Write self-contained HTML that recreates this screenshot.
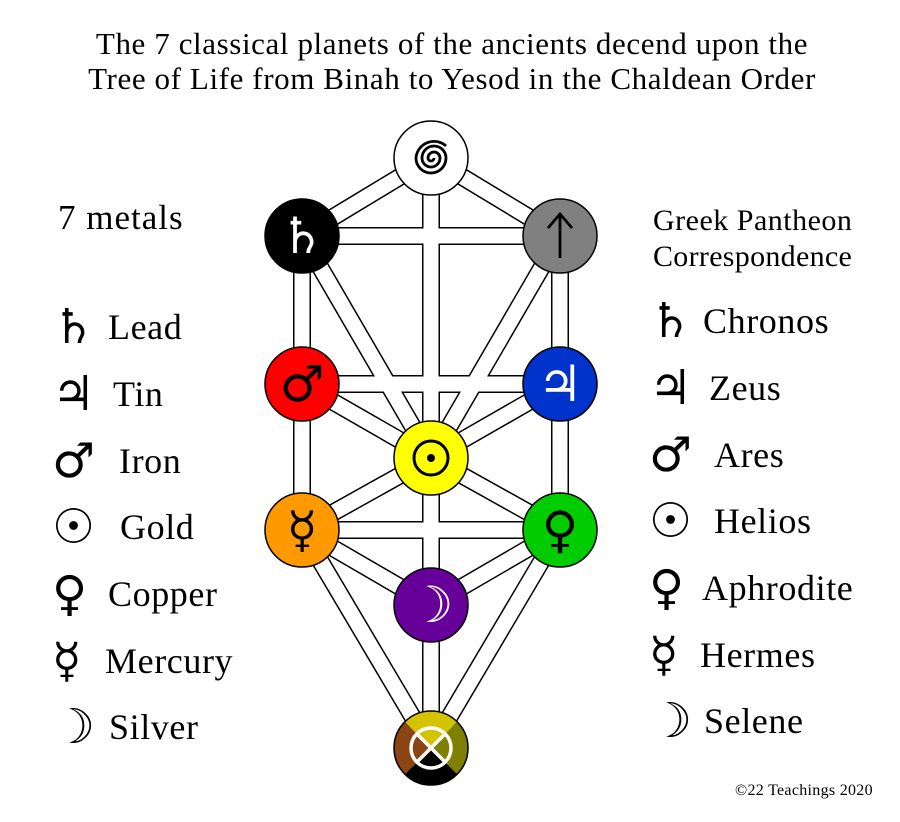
<!DOCTYPE html>
<html><head><meta charset="utf-8"><style>
html,body{margin:0;padding:0;background:#fff;}
svg{display:block;}
.t{font-family:"Liberation Serif","DejaVu Serif",serif;fill:#000;}
.s{font-family:"DejaVu Sans",sans-serif;}
</style></head><body>
<svg width="900" height="822" viewBox="0 0 900 822" xmlns="http://www.w3.org/2000/svg">
<rect width="900" height="822" fill="#fff"/>
<text class="t" x="452" y="54" font-size="31" letter-spacing="0.6" text-anchor="middle">The 7 classical planets of the ancients decend upon the</text>
<text class="t" x="452" y="89" font-size="31" letter-spacing="0.6" text-anchor="middle">Tree of Life from Binah to Yesod in the Chaldean Order</text>

<g stroke-linecap="butt">
<g stroke="#000" stroke-width="18">
<line x1="431" y1="158" x2="560" y2="236"/><line x1="431" y1="158" x2="302" y2="236"/><line x1="431" y1="158" x2="431" y2="458"/>
<line x1="302" y1="236" x2="560" y2="236"/><line x1="560" y1="236" x2="560" y2="384"/><line x1="560" y1="236" x2="431" y2="458"/>
<line x1="302" y1="236" x2="302" y2="384"/><line x1="302" y1="236" x2="431" y2="458"/>
<line x1="302" y1="384" x2="560" y2="384"/><line x1="560" y1="384" x2="431" y2="458"/><line x1="302" y1="384" x2="431" y2="458"/>
<line x1="560" y1="384" x2="560" y2="530"/><line x1="302" y1="384" x2="302" y2="530"/>
<line x1="431" y1="458" x2="560" y2="530"/><line x1="431" y1="458" x2="302" y2="530"/><line x1="431" y1="458" x2="431" y2="605"/>
<line x1="302" y1="530" x2="560" y2="530"/><line x1="560" y1="530" x2="431" y2="605"/><line x1="302" y1="530" x2="431" y2="605"/>
<line x1="560" y1="530" x2="431" y2="748"/><line x1="302" y1="530" x2="431" y2="748"/><line x1="431" y1="605" x2="431" y2="748"/>
</g>
<g stroke="#fff" stroke-width="15">
<line x1="431" y1="158" x2="560" y2="236"/><line x1="431" y1="158" x2="302" y2="236"/><line x1="431" y1="158" x2="431" y2="458"/>
<line x1="302" y1="236" x2="560" y2="236"/><line x1="560" y1="236" x2="560" y2="384"/><line x1="560" y1="236" x2="431" y2="458"/>
<line x1="302" y1="236" x2="302" y2="384"/><line x1="302" y1="236" x2="431" y2="458"/>
<line x1="302" y1="384" x2="560" y2="384"/><line x1="560" y1="384" x2="431" y2="458"/><line x1="302" y1="384" x2="431" y2="458"/>
<line x1="560" y1="384" x2="560" y2="530"/><line x1="302" y1="384" x2="302" y2="530"/>
<line x1="431" y1="458" x2="560" y2="530"/><line x1="431" y1="458" x2="302" y2="530"/><line x1="431" y1="458" x2="431" y2="605"/>
<line x1="302" y1="530" x2="560" y2="530"/><line x1="560" y1="530" x2="431" y2="605"/><line x1="302" y1="530" x2="431" y2="605"/>
<line x1="560" y1="530" x2="431" y2="748"/><line x1="302" y1="530" x2="431" y2="748"/><line x1="431" y1="605" x2="431" y2="748"/>
</g>
</g>

<g stroke="#000" stroke-width="1.5">
<circle cx="431" cy="158" r="37" fill="#fff"/>
<circle cx="302" cy="236" r="37" fill="#000"/>
<circle cx="560" cy="236" r="37" fill="#808080"/>
<circle cx="302" cy="384" r="37" fill="#ff0000"/>
<circle cx="560" cy="384" r="37" fill="#0033cc"/>
<circle cx="431" cy="458" r="37" fill="#ffff00"/>
<circle cx="302" cy="530" r="37" fill="#ff9900"/>
<circle cx="560" cy="530" r="37" fill="#00cc00"/>
<circle cx="431" cy="605" r="37" fill="#660099"/>
</g>
<g>
<path d="M431 748 L404.8 721.8 A37 37 0 0 1 457.2 721.8 Z" fill="#d4c400"/>
<path d="M431 748 L457.2 721.8 A37 37 0 0 1 457.2 774.2 Z" fill="#808000"/>
<path d="M431 748 L457.2 774.2 A37 37 0 0 1 404.8 774.2 Z" fill="#000"/>
<path d="M431 748 L404.8 774.2 A37 37 0 0 1 404.8 721.8 Z" fill="#8b4513"/>
<circle cx="431" cy="748" r="37" fill="none" stroke="#000" stroke-width="1.5"/>
<circle cx="431" cy="748" r="20" fill="none" stroke="#fff" stroke-width="3.5"/>
<line x1="416.9" y1="733.9" x2="445.1" y2="762.1" stroke="#fff" stroke-width="3.5"/>
<line x1="445.1" y1="733.9" x2="416.9" y2="762.1" stroke="#fff" stroke-width="3.5"/>
</g>
<path d="M434 158 A3 3 0 0 1 428 158 A6 6 0 0 1 440 158 A9 9 0 0 1 422 158 A12 12 0 0 1 446 158 A15 15 0 0 1 416 158 A18 18 0 0 1 446 146" fill="none" stroke="#000" stroke-width="2.8"/>
<g stroke="#000" stroke-width="2.8" fill="none"><line x1="560" y1="258" x2="560" y2="215"/><polyline points="548,228 560,214 572,228"/></g>
<circle cx="431" cy="458" r="17" fill="none" stroke="#000" stroke-width="3"/><circle cx="431" cy="458" r="4" fill="#000"/>
<g class="s" text-anchor="middle" font-size="50">
<text x="302" y="253" fill="#fff">♄</text>
<text x="302" y="401" fill="#000">♂</text>
<text x="560" y="401" fill="#fff">♃</text>
<text x="302" y="547" fill="#000">☿</text>
<text x="560" y="547" fill="#000">♀</text>
<text x="431" y="622" fill="#fff">☽</text>
</g>

<text class="t" x="58" y="229" font-size="35" letter-spacing="1">7 metals</text>
<g class="s" font-size="48">
<text x="52" y="343">♄</text><text x="52" y="410">♃</text><text x="52" y="477">♂</text><text x="52" y="543">☉</text><text x="52" y="610">♀</text><text x="52" y="677">☿</text><text x="52" y="743">☽</text>
</g>
<g class="t" font-size="36" letter-spacing="0.6">
<text x="108" y="339">Lead</text><text x="113" y="406">Tin</text><text x="119" y="473">Iron</text><text x="120" y="539">Gold</text><text x="108" y="606">Copper</text><text x="105" y="673">Mercury</text><text x="109" y="739">Silver</text>
</g>

<text class="t" x="653" y="230" font-size="30" letter-spacing="0.5">Greek Pantheon</text>
<text class="t" x="653" y="266" font-size="30" letter-spacing="0.3">Correspondence</text>
<g class="s" font-size="48">
<text x="649" y="337">♄</text><text x="649" y="404">♃</text><text x="649" y="471">♂</text><text x="649" y="537">☉</text><text x="649" y="604">♀</text><text x="649" y="671">☿</text><text x="649" y="737">☽</text>
</g>
<g class="t" font-size="36" letter-spacing="0.6">
<text x="703" y="333">Chronos</text><text x="709" y="400">Zeus</text><text x="714" y="467">Ares</text><text x="714" y="533">Helios</text><text x="702" y="600">Aphrodite</text><text x="700" y="667">Hermes</text><text x="704" y="733">Selene</text>
</g>
<text class="t" x="735" y="795" font-size="16" letter-spacing="0.3">©22 Teachings 2020</text>
</svg>
</body></html>
